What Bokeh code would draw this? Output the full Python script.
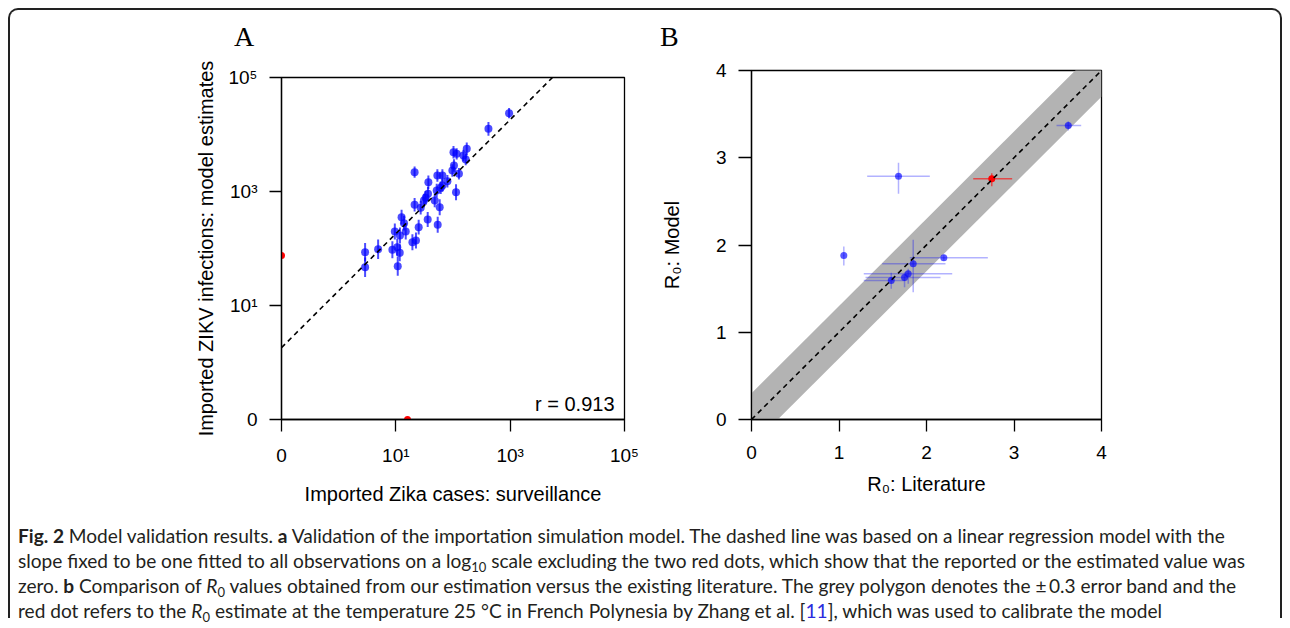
import numpy as np
from bokeh.plotting import figure
from bokeh.models import Label, FixedTicker, Div, Range1d
from bokeh.layouts import row, column
from bokeh.embed import file_html
from bokeh.resources import INLINE

# ---------------- Panel A data ----------------
surv_cases = [957, 417, 102, 116, 174, 152, 167, 104, 97.5, 127, 21.3, 53.3, 65.2,
              37.1, 79.8, 65.2, 61.0, 51.9, 113, 36.5, 33.3, 31.0, 47.9, 21.3, 27.2,
              58.5, 12.6, 13.9, 36.1, 25.1, 54.0, 9.6, 14.9, 11.8, 22.5, 19.5, 10.6,
              8.7, 11.7, 4.9, 2.9, 2.9, 10.8]
model_inf = [23660, 12590, 4887, 4581, 5610, 4285, 3639, 2858, 2333, 2046, 2183, 1910,
             1910, 1455, 1517, 1274, 1161, 1042, 973, 912, 774, 695, 695, 585, 518, 531,
             354, 278, 323, 237, 261, 199, 199, 169, 138, 129, 105, 95, 84, 97, 86, 47, 49]
inf_err = [0.09, 0.12, 0.11, 0.1, 0.11, 0.1, 0.1, 0.11, 0.11, 0.1, 0.1, 0.11, 0.11,
           0.12, 0.11, 0.11, 0.11, 0.12, 0.14, 0.12, 0.12, 0.12, 0.12, 0.12, 0.12, 0.14,
           0.13, 0.13, 0.13, 0.13, 0.14, 0.14, 0.14, 0.14, 0.14, 0.14, 0.15, 0.15, 0.15,
           0.17, 0.16, 0.17, 0.17]
zero_surv = [0, 16]
zero_model = [75, 0]
fit_intercept = 1.26
r_label = "r = 0.913"
a_ticks = [-1, 1, 3, 5]
a_tick_labels = ["0", "10\u00b9", "10\u00b3", "10\u2075"]

# ---------------- Panel B data ----------------
r0_lit = [3.62, 1.68, 1.055, 2.198, 1.848, 1.791, 1.749, 1.597]
r0_lit_lo = [3.486, 1.322, 1.05, 1.809, 1.494, 1.283, 1.303, 1.283]
r0_lit_hi = [3.768, 2.038, 1.06, 2.701, 2.217, 2.294, 2.160, 1.76]
r0_model = [3.370, 2.789, 1.880, 1.855, 1.785, 1.670, 1.628, 1.593]
r0_model_lo = [3.312, 2.587, 1.765, 1.820, 1.459, 1.555, 1.516, 1.498]
r0_model_hi = [3.419, 2.942, 1.983, 1.890, 2.060, 1.727, 1.688, 1.681]
calib_lit, calib_lit_lo, calib_lit_hi = [2.746], [2.534], [2.979]
calib_model, calib_model_lo, calib_model_hi = [2.759], [2.674], [2.823]
band_halfwidth = 0.3
b_ticks = [0, 1, 2, 3, 4]
panel_letters = ["A", "B"]

FONT = "Liberation Sans"


def to_log(v):
    v = np.asarray(v, dtype=float)
    out = np.full(v.shape, -1.0)   # zero drawn one decade below 1
    pos = v > 0
    out[pos] = np.log10(v[pos])
    return out


def style(p, tick_standoff_x, tick_standoff_y, lab_x, lab_y):
    p.title = None
    p.grid.visible = False
    p.outline_line_color = "black"
    p.outline_line_width = 1.3
    p.background_fill_color = "white"
    p.border_fill_color = None
    for ax in (p.xaxis[0], p.yaxis[0]):
        ax.axis_line_color = "black"
        ax.axis_line_width = 1.3
        ax.major_tick_line_color = "black"
        ax.major_tick_line_width = 1.3
        ax.major_tick_out = 12
        ax.major_tick_in = 0
        ax.minor_tick_line_color = None
        ax.major_label_text_font = FONT
        ax.major_label_text_font_size = "19px"
        ax.major_label_text_color = "black"
        ax.axis_label_text_font = FONT
        ax.axis_label_text_font_size = "20px"
        ax.axis_label_text_font_style = "normal"
        ax.axis_label_text_color = "black"
    p.xaxis[0].major_label_standoff = tick_standoff_x
    p.yaxis[0].major_label_standoff = tick_standoff_y
    p.xaxis[0].axis_label_standoff = lab_x
    p.yaxis[0].axis_label_standoff = lab_y


HEAD = 30  # height of the strip holding the panel letters

# ---------------- Panel A ----------------
pA = figure(frame_width=343, frame_height=342, x_range=Range1d(-1, 5), y_range=Range1d(-1, 5),
            min_border_left=271, min_border_right=21, min_border_top=67 - HEAD,
            min_border_bottom=104, output_backend="svg", toolbar_location=None,
            x_axis_label="Imported Zika cases: surveillance",
            y_axis_label="Imported ZIKV infections: model estimates")
style(pA, 13, 12, 14, 8)
for ax in (pA.xaxis[0], pA.yaxis[0]):
    ax.ticker = FixedTicker(ticks=a_ticks)
    ax.major_label_overrides = {t: s for t, s in zip(a_ticks, a_tick_labels)}

lx = to_log(surv_cases)
ly = to_log(model_inf)
err = np.asarray(inf_err)
pA.segment(lx, ly - err, lx, ly + err, line_color="blue", line_alpha=0.7, line_width=2)
pA.scatter(lx, ly, size=8, fill_color="blue", fill_alpha=0.7, line_color=None)
pA.scatter(to_log(zero_surv), to_log(zero_model), size=7, fill_color="red", line_color=None)
x_end = 5 - fit_intercept
pA.line([-1, x_end], [-1 + fit_intercept, x_end + fit_intercept], line_color="black",
        line_width=1.6, line_dash="5 4")
pA.add_layout(Label(x=5, y=-1 + 16 / 57, x_offset=-10, text=r_label, text_font=FONT,
                    text_font_size="20px", text_align="right", text_baseline="alphabetic",
                    text_color="black"))

# ---------------- Panel B ----------------
pB = figure(frame_width=350, frame_height=349, x_range=Range1d(0, 4), y_range=Range1d(0, 4),
            min_border_left=106, min_border_right=179, min_border_top=60 - HEAD,
            min_border_bottom=104, output_backend="svg", toolbar_location=None,
            x_axis_label="R\u2080: Literature", y_axis_label="R\u2080: Model",
            styles={"margin-top": "-7px"})
style(pB, 14, 12, 11, 30)
pB.yaxis[0].major_tick_out = 13
for ax in (pB.xaxis[0], pB.yaxis[0]):
    ax.ticker = FixedTicker(ticks=b_ticks)

bx = np.array([b_ticks[0], b_ticks[-1], b_ticks[-1], b_ticks[0]], dtype=float)
by = bx + np.array([-band_halfwidth, -band_halfwidth, band_halfwidth, band_halfwidth])
pB.patch(bx, by, fill_color="#b3b3b3", line_color=None)

pB.segment(r0_lit_lo, r0_model, r0_lit_hi, r0_model, line_color="blue", line_alpha=0.3, line_width=1.5)
pB.segment(r0_lit, r0_model_lo, r0_lit, r0_model_hi, line_color="blue", line_alpha=0.3, line_width=1.5)
pB.scatter(r0_lit, r0_model, size=7, fill_color="blue", fill_alpha=0.65, line_color=None)
pB.segment(calib_lit_lo, calib_model, calib_lit_hi, calib_model, line_color="red", line_alpha=0.6, line_width=1.5)
pB.segment(calib_lit, calib_model_lo, calib_lit, calib_model_hi, line_color="red", line_alpha=0.6, line_width=1.5)
pB.scatter(calib_lit, calib_model, size=7, fill_color="red", line_color=None)
pB.line([b_ticks[0], b_ticks[-1]], [b_ticks[0], b_ticks[-1]], line_color="black",
        line_width=1.6, line_dash="5 4")

# ---------------- Panel letters ----------------
letter_left = [224, 650]
spans = "".join(
    '<span style="position:absolute; left:%dpx; top:13px; line-height:28px;">%s</span>' % (lx_, t)
    for lx_, t in zip(letter_left, panel_letters))
head = Div(text='<div style="position:relative; width:1270px; height:%dpx; overflow:visible; '
                'font-family:\'Liberation Serif\'; font-size:28px; color:black;">%s</div>' % (HEAD, spans),
           width=1270, height=HEAD, margin=0,
           styles={"overflow": "visible", "z-index": "5"})

# ---------------- Caption ----------------
SUB = '<span style="font-size:13px; vertical-align:-4px; line-height:0">'
caption = (
    '<div style="font-family:Lato; font-size:19.1px; line-height:25px; color:#231f20; '
    'padding-left:8px; white-space:nowrap;">'
    '<b>Fig. 2</b> Model validation results. <b>a</b> Validation of the importation simulation model. '
    'The dashed line was based on a linear regression model with the<br>'
    'slope fixed to be one fitted to all observations on a log' + SUB + '10</span> scale '
    'excluding the two red dots, which show that the reported or the estimated value was<br>'
    'zero. <b>b</b> Comparison of <i>R</i>' + SUB + '0</span> values obtained from our '
    'estimation versus the existing literature. The grey polygon denotes the \u00b1\u20090.3 error band and the<br>'
    'red dot refers to the <i>R</i>' + SUB + '0</span> estimate at the temperature '
    '25\u00a0\u00b0C in French Polynesia by Zhang et al. [<span style="color:#2b2bdd">11</span>], '
    'which was used to calibrate the model'
    '</div>'
)
cap = Div(text=caption, width=1270, height=95, margin=0, styles={"overflow": "visible"})

layout = column(head, row(pA, pB), cap,
                styles={"border": "2px solid #222", "border-bottom": "none",
                        "border-radius": "10px 10px 0 0",
                        "background": "white", "margin-left": "8px", "margin-top": "8px"})

open("out.html", "w").write(file_html(layout, INLINE))
